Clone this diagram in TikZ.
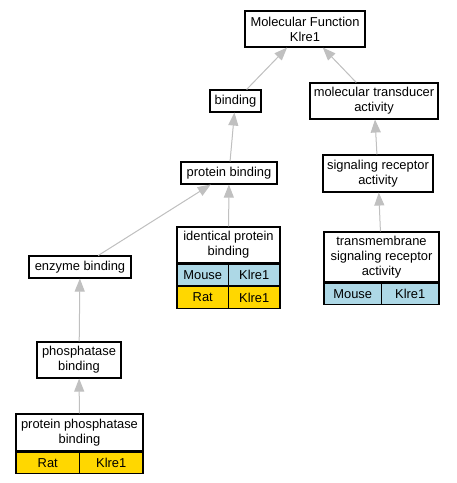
\documentclass[tikz,border=0pt]{standalone}
\usepackage{fontspec}
\setmainfont{Liberation Sans}
\usetikzlibrary{arrows.meta,positioning}

\definecolor{mouseblue}{HTML}{ADD8E6}
\definecolor{ratgold}{HTML}{FFD700}
\definecolor{edgegray}{HTML}{C0C0C0}

\tikzset{
  term/.style={draw=black,line width=1.1pt,fill=white,inner sep=0pt,align=center,
    font=\fontsize{12.9}{15}\selectfont},
  cell/.style={term,minimum height=21.5},
  isa/.style={draw=edgegray,fill=edgegray,line width=1pt,
    arrows={-Triangle[length=13pt,width=10pt,fill=edgegray]}}
}

\begin{document}
\begin{tikzpicture}[x=1pt,y=-1pt]

\useasboundingbox (0,0) rectangle (457,483);

% terms
\node[term,minimum width=120,minimum height=36] (mf) at (305,29) {Molecular Function\\Klre1};
\node[term,minimum width=51,minimum height=22] (bind) at (235.5,101) {binding};
\node[term,minimum width=128,minimum height=36] (mta) at (374,101) {molecular transducer\\activity};
\node[term,minimum width=96,minimum height=22] (pb) at (229,173) {protein binding};
\node[term,minimum width=110,minimum height=37] (sra) at (378,173.5) {signaling receptor\\activity};
\node[term,minimum width=102,minimum height=22] (eb) at (80,267) {enzyme binding};
\node[term,minimum width=84,minimum height=36] (phb) at (79,360) {phosphatase\\binding};

% terms with gene rows
\node[term,minimum width=103,minimum height=36] (ipb) at (228.5,245) {identical protein\\binding};
\node[cell,fill=mouseblue,minimum width=51.5,anchor=north west] (ipbMs) at (ipb.south west) {Mouse};
\node[cell,fill=mouseblue,minimum width=51.5,anchor=north east] (ipbMg) at (ipb.south east) {Klre1};
\node[cell,fill=ratgold,minimum width=51.5,anchor=north west] (ipbRs) at (ipbMs.south west) {Rat};
\node[cell,fill=ratgold,minimum width=51.5,anchor=north east] (ipbRg) at (ipbMg.south east) {Klre1};

\node[term,minimum width=115,minimum height=50] (tsra) at (381.5,257) {transmembrane\\signaling receptor\\activity};
\node[cell,fill=mouseblue,minimum width=57.5,anchor=north west] (tsraMs) at (tsra.south west) {Mouse};
\node[cell,fill=mouseblue,minimum width=57.5,anchor=north east] (tsraMg) at (tsra.south east) {Klre1};

\node[term,minimum width=127,minimum height=37] (ppb) at (79.5,432.5) {protein phosphatase\\binding};
\node[cell,fill=ratgold,minimum width=63.5,anchor=north west] (ppbRs) at (ppb.south west) {Rat};
\node[cell,fill=ratgold,minimum width=63.5,anchor=north east] (ppbRg) at (ppb.south east) {Klre1};

% is_a edges
\draw[isa] (bind) -- (mf);
\draw[isa] (mta) -- (mf);
\draw[isa] (pb) -- (bind);
\draw[isa] (sra) -- (mta);
\draw[isa] (eb) -- (pb);
\draw[isa] (ipb) -- (pb);
\draw[isa] (tsra) -- (sra);
\draw[isa] (phb) -- (eb);
\draw[isa] (ppb) -- (phb);

\end{tikzpicture}
\end{document}
